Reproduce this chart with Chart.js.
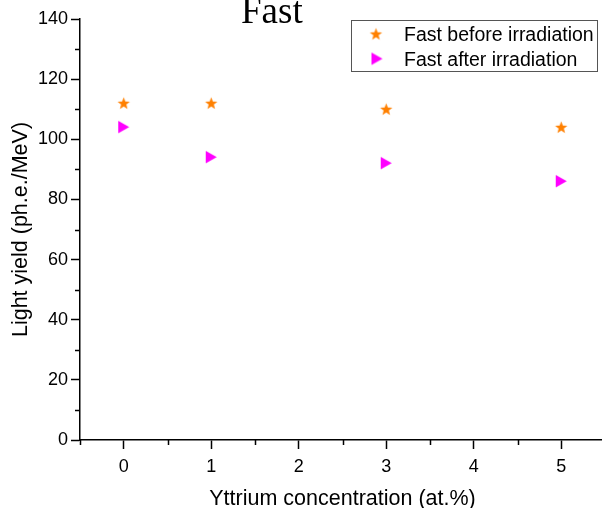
<!DOCTYPE html>
<html>
<head>
<meta charset="utf-8">
<script src="https://cdn.jsdelivr.net/npm/chart.js@4.4.0/dist/chart.umd.min.js"></script>
<style>
  html, body { margin: 0; padding: 0; background: #fff; overflow: hidden; }
  #wrap { width: 602px; height: 508px; overflow: hidden; }
</style>
</head>
<body>
<div id="wrap"><canvas id="chart" width="612" height="508"></canvas></div>
<script>
// Light yield vs yttrium content, fast component
const yttrium     = [0, 1, 3, 5];
const fastBefore  = [112, 112, 110, 104];
const fastAfter   = [104, 94, 92, 86];
const seriesNames = ['Fast before irradiation', 'Fast after irradiation'];
const titleText   = 'Fast';
const xTitle      = 'Yttrium concentration (at.%)';
const yTitle      = 'Light yield (ph.e./MeV)';

const ORANGE  = '#ff8000';
const MAGENTA = '#ff00ff';
const SANS = '"Liberation Sans", Arial, sans-serif';

// filled five-point star marker
function starMarker(color, r) {
  const size = Math.ceil(r * 2) + 2;
  const c = document.createElement('canvas');
  c.width = size; c.height = size;
  const g = c.getContext('2d');
  const cx = size / 2, cy = size / 2 + 0.5;
  g.beginPath();
  for (let i = 0; i < 10; i++) {
    const rad = i % 2 === 0 ? r : r * 0.42;
    const a = -Math.PI / 2 + i * Math.PI / 5;
    const px = cx + Math.cos(a) * rad, py = cy + Math.sin(a) * rad;
    i === 0 ? g.moveTo(px, py) : g.lineTo(px, py);
  }
  g.closePath();
  g.fillStyle = color;
  g.fill();
  return c;
}

// right-pointing triangle marker
function triMarker(color, w, h) {
  const c = document.createElement('canvas');
  c.width = Math.ceil(w) + 2; c.height = Math.ceil(h) + 2;
  const g = c.getContext('2d');
  g.beginPath();
  g.moveTo(1, 1);
  g.lineTo(1 + w, 1 + h / 2);
  g.lineTo(1, 1 + h);
  g.closePath();
  g.fillStyle = color;
  g.fill();
  return c;
}

const starImg = starMarker(ORANGE, 6.5);
const triImg  = triMarker(MAGENTA, 11, 12.5);

// short ticks between the labelled ones
const minorTicks = {
  id: 'minorTicks',
  afterDraw(chart) {
    const { ctx, scales: { x, y } } = chart;
    ctx.save();
    ctx.strokeStyle = '#000';
    ctx.lineWidth = 1.5;
    ctx.beginPath();
    for (let v = -0.5; v <= 5.5; v += 1) {
      const px = Math.round(x.getPixelForValue(v)) + 0.5;
      ctx.moveTo(px, x.top);
      ctx.lineTo(px, x.top + 5);
    }
    for (let v = 10; v <= 130; v += 20) {
      const py = Math.round(y.getPixelForValue(v)) + 0.5;
      ctx.moveTo(y.right, py);
      ctx.lineTo(y.right - 5, py);
    }
    ctx.stroke();
    ctx.restore();
  }
};

// boxed legend in the upper right and the heading
const boxLegend = {
  id: 'boxLegend',
  afterDraw(chart) {
    const ctx = chart.ctx;
    ctx.save();
    ctx.fillStyle = '#fff';
    ctx.fillRect(351, 20, 247, 52);
    ctx.strokeStyle = '#555';
    ctx.lineWidth = 1;
    ctx.strokeRect(351.5, 20.5, 246, 51);
    ctx.drawImage(starImg, 376 - starImg.width / 2, 34 - starImg.height / 2);
    ctx.drawImage(triImg, 377 - triImg.width / 2, 59 - triImg.height / 2);
    ctx.fillStyle = '#000';
    ctx.font = '19.5px ' + SANS;
    ctx.textBaseline = 'alphabetic';
    ctx.fillText(seriesNames[0], 404, 41);
    ctx.fillText(seriesNames[1], 404, 66);

    ctx.font = '37px "Liberation Serif", "Times New Roman", serif';
    ctx.fillText(titleText, 241, 23);
    ctx.restore();
  }
};

const toPoints = (xs, ys) => xs.map((v, i) => ({ x: v, y: ys[i] }));

new Chart(document.getElementById('chart'), {
  type: 'scatter',
  data: {
    datasets: [
      {
        label: seriesNames[0],
        data: toPoints(yttrium, fastBefore),
        pointStyle: starImg,
        backgroundColor: ORANGE,
        borderColor: ORANGE
      },
      {
        label: seriesNames[1],
        data: toPoints(yttrium, fastAfter),
        pointStyle: triImg,
        backgroundColor: MAGENTA,
        borderColor: MAGENTA
      }
    ]
  },
  options: {
    responsive: false,
    animation: false,
    layout: { padding: { top: 19, right: 2, bottom: 0, left: 0 } },
    plugins: {
      legend: { display: false },
      title: { display: false },
      tooltip: { enabled: false }
    },
    scales: {
      x: {
        type: 'linear',
        min: -0.5,
        max: 5.5,
        afterFit(scale) { scale.height = 68; },
        border: { display: true, color: '#000', width: 1.5 },
        grid: {
          drawOnChartArea: false,
          tickLength: 9,
          tickWidth: 1.5,
          tickColor: c => Number.isInteger(c.tick.value) ? '#000' : 'rgba(0,0,0,0)'
        },
        ticks: {
          stepSize: 0.5,
          padding: 7,
          color: '#000',
          font: { family: SANS, size: 18 },
          callback: v => Number.isInteger(v) ? v : ''
        },
        title: {
          display: true,
          text: xTitle,
          color: '#000',
          font: { family: SANS, size: 21.5 },
          padding: { top: 0, bottom: -4 }
        }
      },
      y: {
        min: 0,
        max: 140,
        afterFit(scale) { scale.width = 80; },
        border: { display: true, color: '#000', width: 1.5 },
        grid: {
          drawOnChartArea: false,
          tickLength: 9,
          tickWidth: 1.5,
          tickColor: c => c.tick.value % 20 === 0 ? '#000' : 'rgba(0,0,0,0)'
        },
        ticks: {
          stepSize: 10,
          padding: 3,
          color: '#000',
          font: { family: SANS, size: 18 },
          callback: v => v % 20 === 0 ? v : ''
        },
        title: {
          display: true,
          text: yTitle,
          color: '#000',
          font: { family: SANS, size: 21.5 },
          padding: { top: 8, bottom: 0 }
        }
      }
    }
  },
  plugins: [minorTicks, boxLegend]
});
</script>
</body>
</html>
